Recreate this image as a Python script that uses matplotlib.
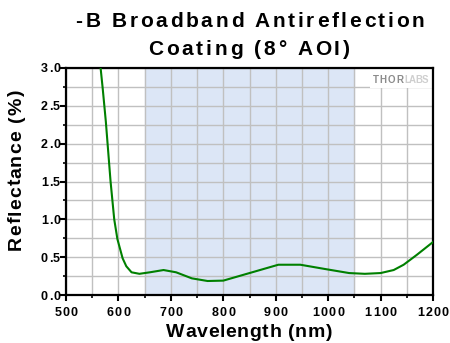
import matplotlib.pyplot as plt
import numpy as np
from matplotlib.font_manager import FontProperties, findfont
from matplotlib.ft2font import FT2Font
from matplotlib.patches import Rectangle
from matplotlib.transforms import IdentityTransform

wavelength = [558, 566, 570, 576, 585, 592, 598, 608, 615, 625, 640, 660, 686, 710, 740,
              770, 800, 830, 870, 905, 947, 997, 1040, 1070, 1100, 1125, 1144, 1169, 1200]
reflectance = [3.4, 3.0, 2.73, 2.29, 1.5, 1.0, 0.74, 0.485, 0.38, 0.30, 0.28, 0.30, 0.33, 0.30, 0.22,
               0.185, 0.19, 0.25, 0.33, 0.40, 0.40, 0.34, 0.29, 0.28, 0.29, 0.33, 0.40, 0.53, 0.70]
band = (650, 1050)
x_ticks = [500, 600, 700, 800, 900, 1000, 1100, 1200]
y_ticks = [0.0, 0.5, 1.0, 1.5, 2.0, 2.5, 3.0]
title_lines = ['-B Broadband Antireflection', 'Coating (8° AOI)']
x_label = 'Wavelength (nm)'
y_label = 'Reflectance (%)'

FAMILY = 'Liberation Sans'
W, H = 450, 343

fig = plt.figure(figsize=(W / 100, H / 100), dpi=100)
ax = fig.add_axes([66 / W, 48 / H, 367 / W, 227 / H])
font = FT2Font(findfont(FontProperties(family=FAMILY, weight='bold')))


def tracked(x, y, s, size, track=0.0, width=None, ha='center', rotation=0, color='black'):
    # the original text has wide letter spacing, so place the glyphs one by one
    # x, y are image pixels (y from the top), at the baseline
    font.set_size(size, 100)
    advs = [font.load_char(ord(c)).linearHoriAdvance / 65536 for c in s]
    if width is not None and len(s) > 1:
        track = (width - sum(advs)) / (len(s) - 1)
    total = sum(advs) + track * (len(s) - 1)
    pos = {'center': -total / 2, 'left': 0, 'right': -total}[ha]
    for c, a in zip(s, advs):
        if rotation == 0:
            px, py = x + pos, H - y
        else:
            px, py = x, H - y + pos
        fig.text(px, py, c, transform=IdentityTransform(), fontsize=size, family=FAMILY,
                 fontweight='bold', ha='left', va='baseline', rotation=rotation,
                 rotation_mode='anchor', color=color)
        pos += a + track


ax.axvspan(band[0], band[1], color='#dce6f6', zorder=0)
ax.plot(wavelength, reflectance, color='#008000', lw=1.5, zorder=3)

ax.set_xlim(500, 1200)
ax.set_ylim(0, 3.0)
ax.set_xticks(x_ticks)
ax.set_xticks(np.arange(550, 1200, 100), minor=True)
ax.set_yticks(y_ticks)
ax.set_yticks(np.arange(0.25, 3.0, 0.5), minor=True)
ax.set_xticklabels([])
ax.set_yticklabels([])
ax.grid(True, which='both', color='#c0c0c0', lw=1)
ax.set_axisbelow(True)

for s in ax.spines.values():
    s.set_linewidth(1.6)
ax.tick_params(which='major', direction='out', length=4, width=1.5)
ax.tick_params(which='minor', direction='out', length=2, width=1.2)

# tick labels, placed from the axes transform
for v in x_ticks:
    px = ax.transData.transform((v, 0))[0]
    tracked(px, 316, str(v), 9, track=1.3)
for v in y_ticks:
    py = H - ax.transData.transform((500, v))[1]
    tracked(60, py + 4.5, '%.1f' % v, 9, track=0.9, ha='right')

tracked(249, 337, x_label, 14, width=166)
tracked(21, 170, y_label, 14, width=160, rotation=90)
tracked(250, 27, title_lines[0], 15, width=349)
tracked(249, 55, title_lines[1], 15, width=201)

# logo in its white box
ax.add_patch(Rectangle((370, H - 88), 62, 19, transform=IdentityTransform(),
                       facecolor='white', edgecolor='none', zorder=2))
tracked(373, 83, 'THOR', 7, width=30, ha='left', color='#8c8c8c')
tracked(404, 83, 'LABS', 7, width=24, ha='left', color='#cfcfcf')

fig.savefig('out.png', dpi=100)
